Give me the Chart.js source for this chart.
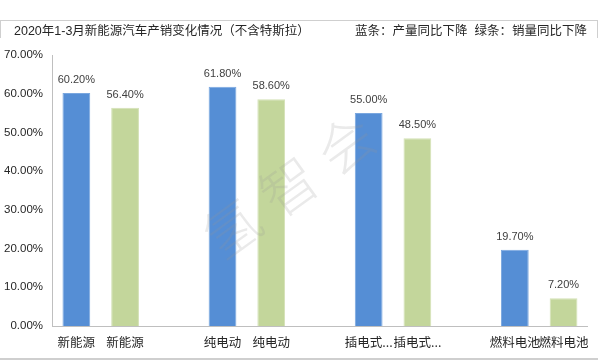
<!DOCTYPE html>
<html lang="zh-cn">
<head>
<meta charset="UTF-8">
<title>新能源汽车产销变化</title>
<script src="https://cdn.jsdelivr.net/npm/chart.js"></script>
<style>
    body { margin: 0; background: #fff; }
    .janela { position: relative; width: 598px; height: 360px; overflow: hidden;
        font-family: "Liberation Sans", "Noto Sans CJK SC", sans-serif; }
    .cabecalho { position: absolute; left: 0; top: 20px; width: 596px; height: 17px;
        border-top: 1px solid #cfcfcf; border-left: 1px solid #cfcfcf; border-right: 1px solid #cfcfcf;
        font-size: 12.5px; color: #262626; line-height: 20px; }
    .titulo { position: absolute; left: 13px; top: 0; }
    .legenda { position: absolute; right: 10px; top: 0; }
    .rodape { position: absolute; left: 0; top: 358px; width: 598px; border-top: 2px solid #cfcfcf; }
    #grafico { position: absolute; left: 0; top: 0; }
</style>
</head>
<body>
<div class="janela">
    <canvas id="grafico" width="598" height="360"></canvas>
    <div class="cabecalho">
        <span class="titulo">2020年1-3月新能源汽车产销变化情况（不含特斯拉）</span>
        <span class="legenda">蓝条：产量同比下降&nbsp;&nbsp;绿条：销量同比下降</span>
    </div>
    <div class="rodape"></div>
</div>

<script>
    // dados
    const grupos = ['新能源', '纯电动', '插电式...', '燃料电池']
    const producao = [60.2, 61.8, 55.0, 19.7]   // azul
    const vendas = [56.4, 58.6, 48.5, 7.2]      // verde
    const ticksY = [0, 10, 20, 30, 40, 50, 60, 70]

    // cada grupo: barra azul, barra verde, e uma posicao vazia entre grupos
    let labels = []
    let dadosAzul = []
    let dadosVerde = []
    for (let i = 0; i < grupos.length; i++) {
        labels.push(grupos[i], grupos[i])
        dadosAzul.push(producao[i], null)
        dadosVerde.push(null, vendas[i])
        if (i < grupos.length - 1) {
            labels.push('')
            dadosAzul.push(null)
            dadosVerde.push(null)
        }
    }

    const rotulos = {
        id: 'rotulos',
        afterDatasetsDraw(chart) {
            const ctx = chart.ctx
            ctx.save()
            ctx.font = '11px "Liberation Sans", sans-serif'
            ctx.fillStyle = '#404040'
            ctx.textAlign = 'center'
            ctx.textBaseline = 'middle'
            chart.data.datasets.forEach(function (ds, d) {
                chart.getDatasetMeta(d).data.forEach(function (bar, i) {
                    if (ds.data[i] == null) return
                    ctx.fillText(ds.data[i].toFixed(2) + '%', bar.x, bar.y - 13)
                })
            })
            ctx.restore()
        }
    }

    const marcaDagua = {
        id: 'marcaDagua',
        afterDraw(chart) {
            const ctx = chart.ctx
            const letras = ['氢', '智', '会']
            ctx.save()
            ctx.font = '300 56px "Noto Sans CJK SC", sans-serif'
            ctx.fillStyle = 'rgba(150,150,150,0.2)'
            ctx.textAlign = 'center'
            ctx.textBaseline = 'middle'
            for (let i = 0; i < letras.length; i++) {
                ctx.save()
                ctx.translate(232 + i * 57, 228 - i * 42)
                ctx.rotate(-36 * Math.PI / 180)
                ctx.fillText(letras[i], 0, 0)
                ctx.restore()
            }
            ctx.restore()
        }
    }

    new Chart(document.getElementById('grafico'), {
        type: 'bar',
        data: {
            labels: labels,
            datasets: [
                {
                    label: '产量同比下降',
                    data: dadosAzul,
                    backgroundColor: '#558ed5',
                    borderColor: '#7aa7df',
                    borderWidth: 1
                },
                {
                    label: '销量同比下降',
                    data: dadosVerde,
                    backgroundColor: '#c3d69b',
                    borderColor: '#d3e1b5',
                    borderWidth: 1
                }
            ]
        },
        options: {
            responsive: false,
            animation: false,
            layout: { padding: { top: 55, right: 10, left: 0, bottom: 0 } },
            datasets: { bar: { categoryPercentage: 1, barPercentage: 0.57 } },
            plugins: {
                legend: { display: false },
                tooltip: { enabled: false }
            },
            scales: {
                x: {
                    stacked: true,
                    grid: { display: false, drawTicks: false },
                    border: { color: '#bfbfbf', width: 1 },
                    ticks: {
                        autoSkip: false,
                        maxRotation: 0,
                        padding: 9,
                        color: '#262626',
                        font: { family: '"Noto Sans CJK SC", sans-serif', size: 12.5 }
                    },
                    afterFit: function (scale) { scale.height = 34 }
                },
                y: {
                    min: 0,
                    max: 70,
                    grid: { display: false, drawTicks: false },
                    border: { color: '#bfbfbf', width: 1 },
                    afterBuildTicks: function (scale) {
                        scale.ticks = ticksY.map(function (v) { return { value: v } })
                    },
                    ticks: {
                        padding: 9,
                        color: '#262626',
                        font: { family: '"Liberation Sans", sans-serif', size: 11.5 },
                        callback: function (v) { return v.toFixed(2) + '%' }
                    },
                    afterFit: function (scale) { scale.width = 52 }
                }
            }
        },
        plugins: [rotulos, marcaDagua]
    })
</script>
</body>
</html>
